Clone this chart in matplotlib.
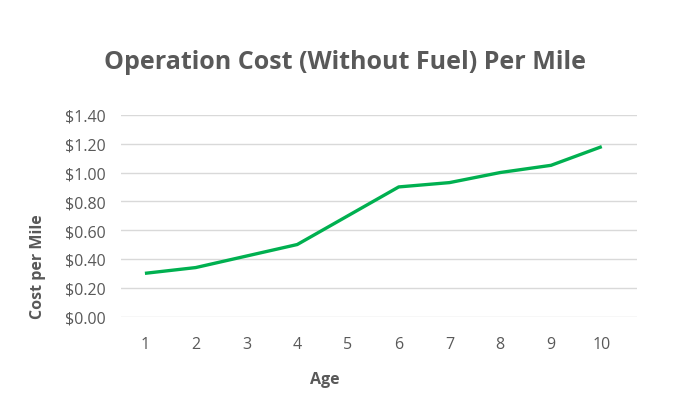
import matplotlib
matplotlib.use("Agg")
import matplotlib.pyplot as plt
from matplotlib.ticker import FuncFormatter

ages = [1, 2, 3, 4, 5, 6, 7, 8, 9, 10]
cost_per_mile = [0.30, 0.34, 0.42, 0.50, 0.70, 0.90, 0.93, 1.00, 1.05, 1.18]
y_ticks = [0.0, 0.2, 0.4, 0.6, 0.8, 1.0, 1.2, 1.4]

plt.rcParams['font.family'] = ['Open Sans', 'DejaVu Sans']
grey = "#595959"

fig = plt.figure(figsize=(6.84, 4.14), dpi=100)
ax = fig.add_axes([0.177, 0.233, 0.754, 0.487])

ax.plot(ages, cost_per_mile, color="#00B050", linewidth=2.4, solid_capstyle="butt")

ax.set_xlim(0.53, 10.69)
ax.set_ylim(0, 1.4)
ax.set_yticks(y_ticks)
ax.yaxis.set_major_formatter(FuncFormatter(lambda v, p: f"${v:.2f}"))
ax.set_xticks(ages)
ax.tick_params(axis="both", length=0, colors=grey, labelsize=11.5)
ax.tick_params(axis="y", pad=11)
ax.tick_params(axis="x", pad=14)
ax.grid(axis="y", color="#D9D9D9", linewidth=1)
ax.set_axisbelow(True)
for s in ax.spines.values():
    s.set_visible(False)

fig.text(0.505, 0.85, "Operation Cost (Without Fuel) Per Mile", ha="center", va="center",
         fontsize=18, fontweight="bold", color=grey)
fig.text(0.475, 0.082, "Age", ha="center", va="center", fontsize=11.5, fontweight="bold", color=grey)
fig.text(0.055, 0.355, "Cost per Mile", ha="center", va="center", rotation=90,
         fontsize=11.5, fontweight="bold", color=grey)

fig.savefig("out.png", dpi=100, facecolor="white")
